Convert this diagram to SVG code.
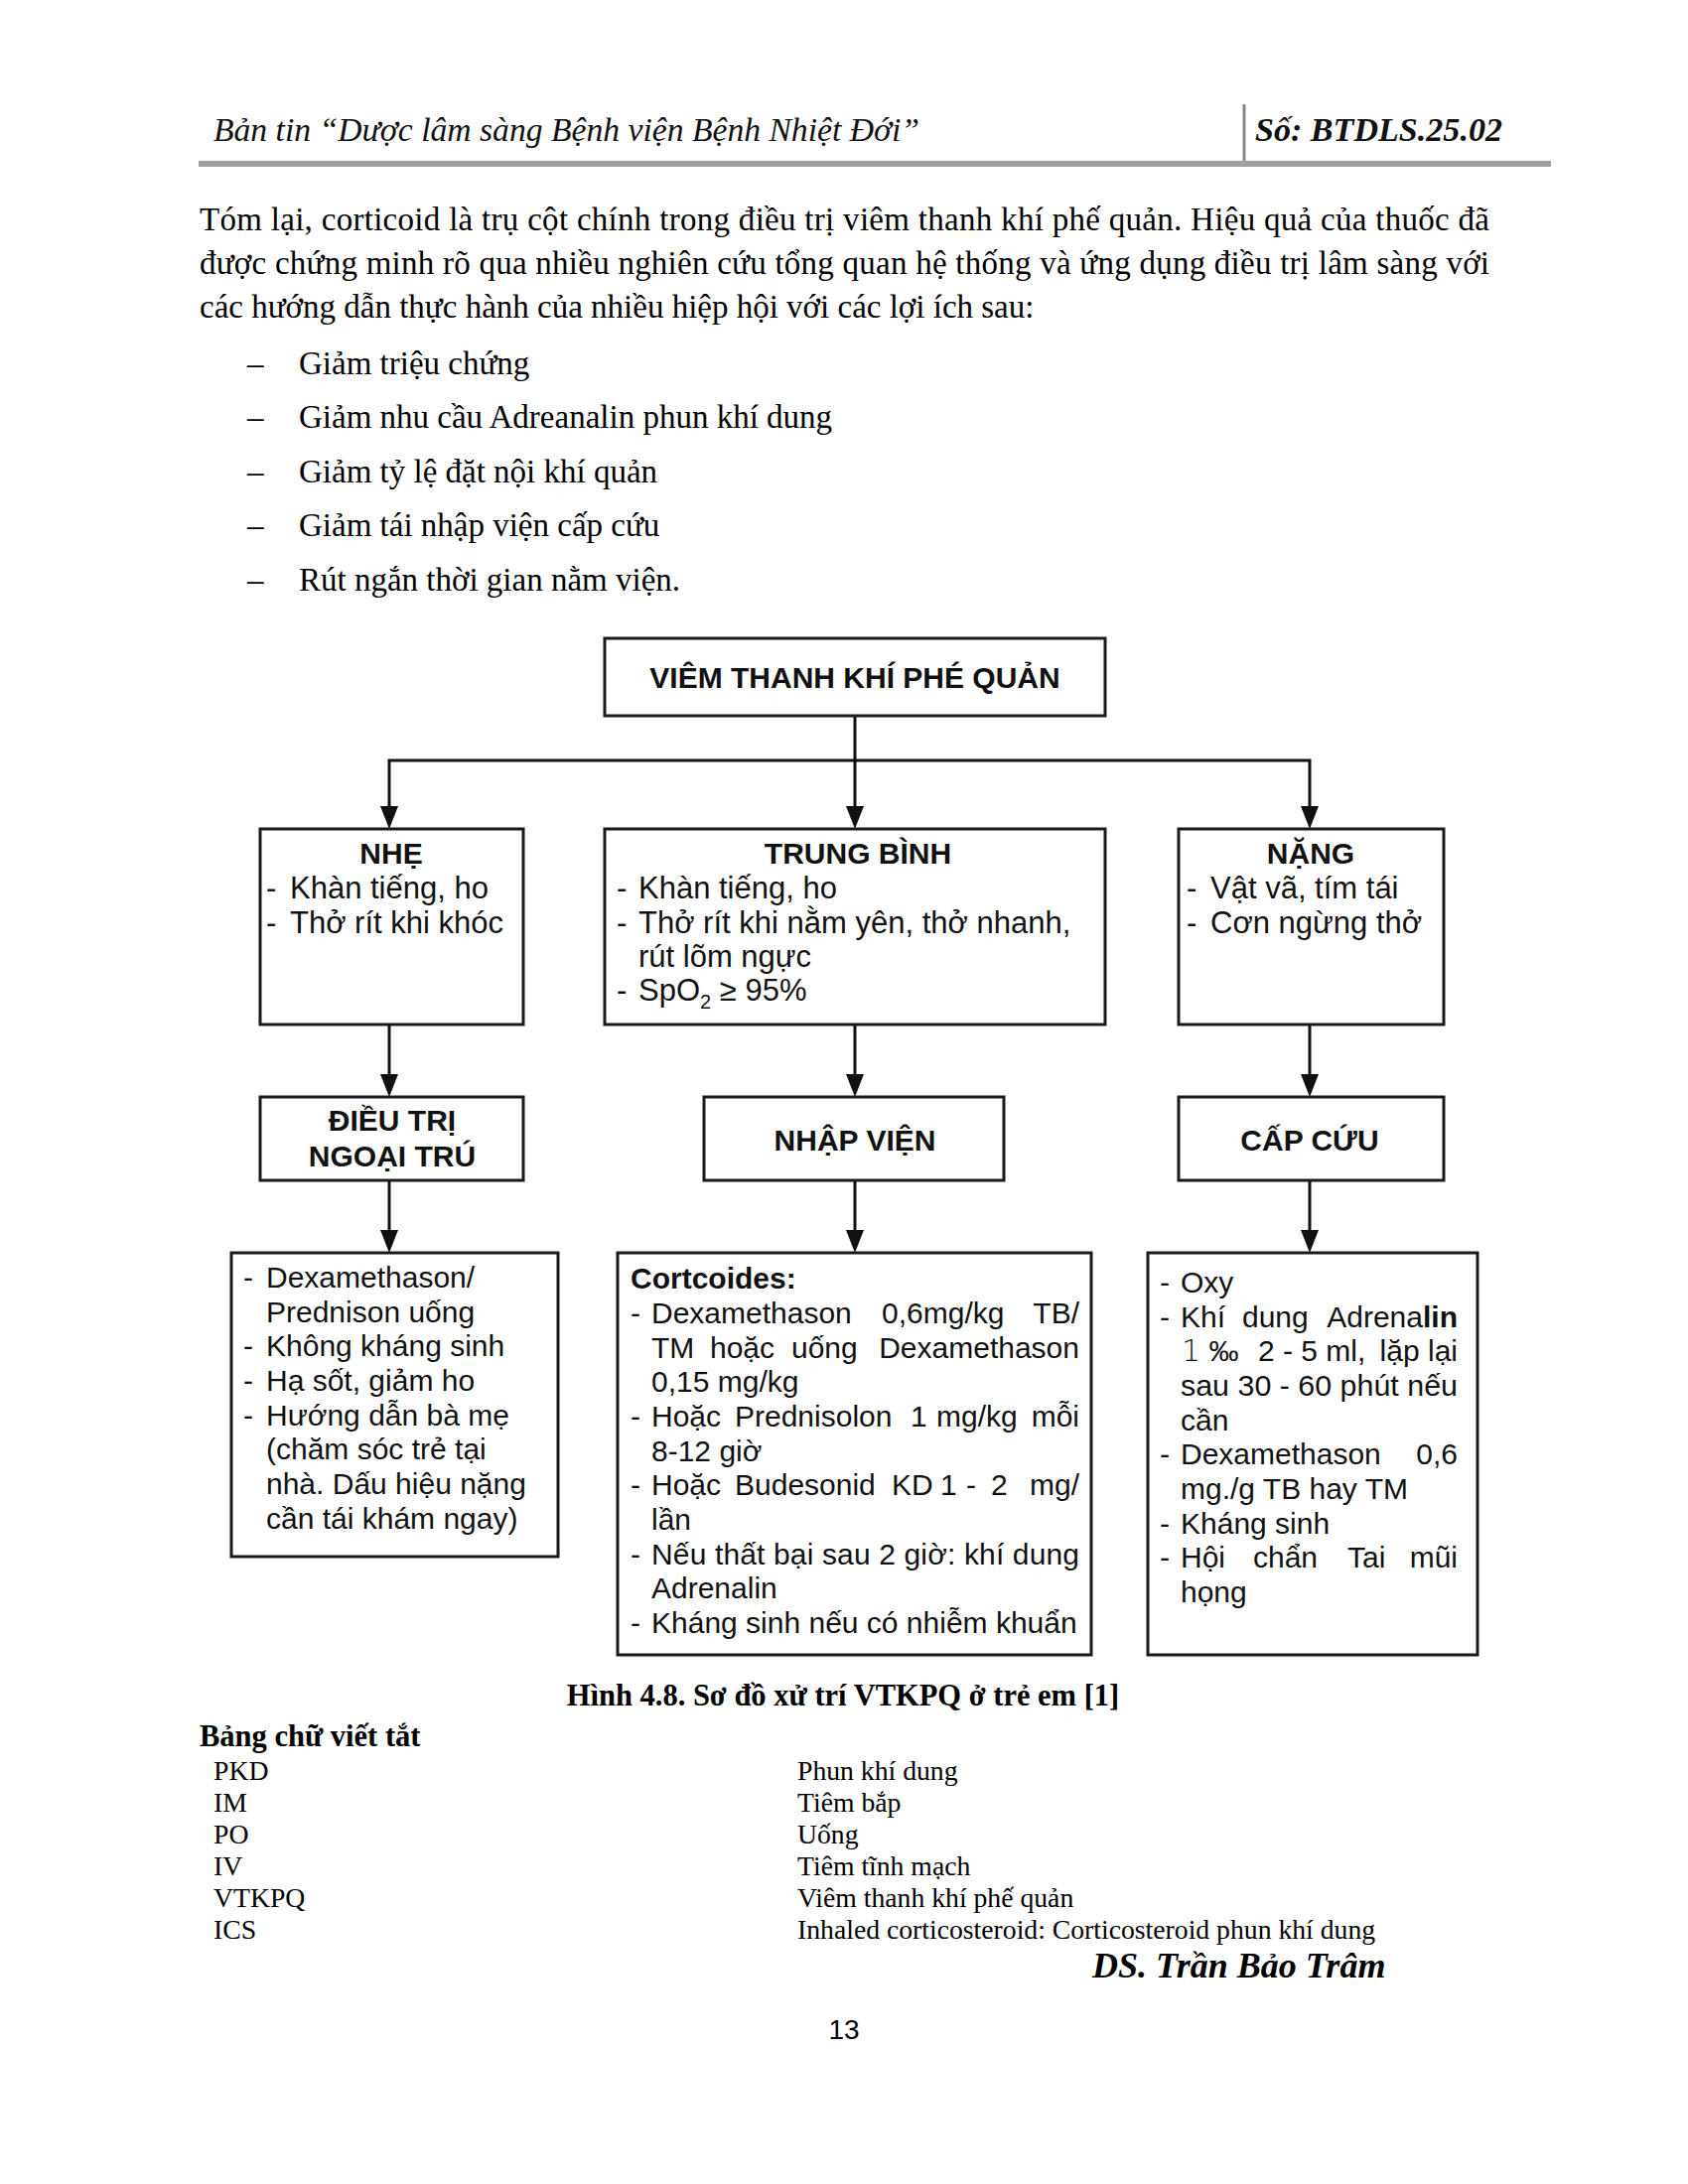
<svg xmlns="http://www.w3.org/2000/svg" width="1700" height="2200" viewBox="0 0 1700 2200">
<defs>
<style>
.hd{font-family:"Liberation Serif",serif;font-style:italic;font-size:34px;fill:#111}
.hdb{font-family:"Liberation Serif",serif;font-style:italic;font-weight:bold;font-size:34px;fill:#111}
.b{font-family:"Liberation Serif",serif;font-size:33px;fill:#000}
.cap{font-family:"Liberation Serif",serif;font-weight:bold;font-size:30.5px;fill:#000}
.ab{font-family:"Liberation Serif",serif;font-size:27.7px;fill:#000}
.sig{font-family:"Liberation Serif",serif;font-style:italic;font-weight:bold;font-size:36px;fill:#000}
.pg{font-family:"Liberation Sans",sans-serif;font-size:28px;fill:#000}
.d{font-family:"Liberation Sans",sans-serif;font-size:30px;fill:#111}
.d2{font-family:"Liberation Sans",sans-serif;font-size:31px;fill:#111}
.t{font-family:"Liberation Sans",sans-serif;font-size:30px;font-weight:bold;fill:#111;text-anchor:middle}
.bx{fill:#fff;stroke:#1a1a1a;stroke-width:3}
.c{fill:none;stroke:#111;stroke-width:3}
</style>
<marker id="ah" viewBox="0 0 23 18" refX="13" refY="9" markerWidth="23" markerHeight="18" markerUnits="userSpaceOnUse" orient="auto-start-reverse">
<path d="M0,0 L23,9 L0,18 z" fill="#111"/>
</marker>
</defs>
<rect width="1700" height="2200" fill="#fff"/>

<!-- header -->
<text class="hd" x="215" y="142" textLength="711" lengthAdjust="spacingAndGlyphs">Bản tin “Dược lâm sàng Bệnh viện Bệnh Nhiệt Đới”</text>
<line x1="1253" y1="105" x2="1253" y2="166" stroke="#888" stroke-width="3"/>
<text class="hdb" x="1264" y="142" textLength="249" lengthAdjust="spacingAndGlyphs">Số: BTDLS.25.02</text>
<rect x="200" y="162" width="1362" height="6" fill="#a0a0a0"/>

<!-- body -->
<text class="b" x="201" y="232" textLength="1299" lengthAdjust="spacing">Tóm lại, corticoid là trụ cột chính trong điều trị viêm thanh khí phế quản. Hiệu quả của thuốc đã</text>
<text class="b" x="201" y="276" textLength="1299" lengthAdjust="spacing">được chứng minh rõ qua nhiều nghiên cứu tổng quan hệ thống và ứng dụng điều trị lâm sàng với</text>
<text class="b" x="201" y="320">các hướng dẫn thực hành của nhiều hiệp hội với các lợi ích sau:</text>
<g class="b">
<text x="249" y="377">–</text><text x="301" y="377">Giảm triệu chứng</text>
<text x="249" y="431">–</text><text x="301" y="431">Giảm nhu cầu Adreanalin phun khí dung</text>
<text x="249" y="486">–</text><text x="301" y="486">Giảm tỷ lệ đặt nội khí quản</text>
<text x="249" y="540">–</text><text x="301" y="540">Giảm tái nhập viện cấp cứu</text>
<text x="249" y="595">–</text><text x="301" y="595">Rút ngắn thời gian nằm viện.</text>
</g>

<!-- connectors -->
<g id="connectors">
<path class="c" d="M861,721 V825" marker-end="url(#ah)"/>
<path class="c" d="M392,825 V766 H1319 V825" marker-start="url(#ah)" marker-end="url(#ah)"/>
<path class="c" d="M392,1032 V1095" marker-end="url(#ah)"/>
<path class="c" d="M861,1032 V1095" marker-end="url(#ah)"/>
<path class="c" d="M1319,1032 V1095" marker-end="url(#ah)"/>
<path class="c" d="M392,1189 V1252" marker-end="url(#ah)"/>
<path class="c" d="M861,1189 V1252" marker-end="url(#ah)"/>
<path class="c" d="M1319,1189 V1252" marker-end="url(#ah)"/>
</g>

<!-- nodes -->
<g id="root">
<rect class="bx" x="609" y="643" width="504" height="78"/>
<text class="t" x="861" y="693">VIÊM THANH KHÍ PHÉ QUẢN</text>
</g>

<g id="nhe">
<rect class="bx" x="262" y="835" width="265" height="197"/>
<text class="t" x="394" y="870">NHẸ</text>
<text class="d2" x="268" y="905">-</text><text class="d2" x="292" y="905">Khàn tiếng, ho</text>
<text class="d2" x="268" y="940">-</text><text class="d2" x="292" y="940">Thở rít khi khóc</text>
</g>

<g id="trungbinh">
<rect class="bx" x="609" y="835" width="504" height="197"/>
<text class="t" x="864" y="870">TRUNG BÌNH</text>
<text class="d2" x="621" y="905">-</text><text class="d2" x="643" y="905">Khàn tiếng, ho</text>
<text class="d2" x="621" y="940">-</text><text class="d2" x="643" y="940">Thở rít khi nằm yên, thở nhanh,</text>
<text class="d2" x="643" y="974">rút lõm ngực</text>
<text class="d2" x="621" y="1008">-</text><text class="d2" x="643" y="1008">SpO<tspan font-size="20" dy="8">2</tspan><tspan dy="-8"> ≥ 95%</tspan></text>
</g>

<g id="nang">
<rect class="bx" x="1187" y="835" width="267" height="197"/>
<text class="t" x="1320" y="870">NẶNG</text>
<text class="d2" x="1195" y="905">-</text><text class="d2" x="1219" y="905">Vật vã, tím tái</text>
<text class="d2" x="1195" y="940">-</text><text class="d2" x="1219" y="940">Cơn ngừng thở</text>
</g>

<g id="ngoaitru">
<rect class="bx" x="262" y="1105" width="265" height="84"/>
<text class="t" x="395" y="1139">ĐIỀU TRỊ</text>
<text class="t" x="395" y="1175">NGOẠI TRÚ</text>
</g>

<g id="nhapvien">
<rect class="bx" x="709" y="1105" width="302" height="84"/>
<text class="t" x="861" y="1159">NHẬP VIỆN</text>
</g>

<g id="capcuu">
<rect class="bx" x="1187" y="1105" width="267" height="84"/>
<text class="t" x="1319" y="1159">CẤP CỨU</text>
</g>

<g id="tx-ngoaitru" class="d">
<rect class="bx" x="233" y="1262" width="329" height="306"/>
<text x="245" y="1297">-</text><text x="268" y="1297">Dexamethason/</text>
<text x="268" y="1332">Prednison uống</text>
<text x="245" y="1366">-</text><text x="268" y="1366">Không kháng sinh</text>
<text x="245" y="1401">-</text><text x="268" y="1401">Hạ sốt, giảm ho</text>
<text x="245" y="1436">-</text><text x="268" y="1436">Hướng dẫn bà mẹ</text>
<text x="268" y="1470">(chăm sóc trẻ tại</text>
<text x="268" y="1505">nhà. Dấu hiệu nặng</text>
<text x="268" y="1540">cần tái khám ngay)</text>
</g>

<g id="tx-nhapvien" class="d">
<rect class="bx" x="622" y="1262" width="477" height="405"/>
<text x="635" y="1298" font-weight="bold">Cortcoides:</text>
<text x="635" y="1333">-</text><text x="656" y="1333">Dexamethason</text><text x="888" y="1333">0,6mg/kg</text><text x="1087" y="1333" text-anchor="end">TB/</text>
<text x="656" y="1368">TM</text><text x="715" y="1368">hoặc</text><text x="797" y="1368">uống</text><text x="1087" y="1368" text-anchor="end">Dexamethason</text>
<text x="656" y="1402">0,15 mg/kg</text>
<text x="635" y="1437">-</text><text x="656" y="1437">Hoặc</text><text x="740" y="1437">Prednisolon</text><text x="917" y="1437">1</text><text x="943" y="1437">mg/kg</text><text x="1087" y="1437" text-anchor="end">mỗi</text>
<text x="656" y="1472">8-12 giờ</text>
<text x="635" y="1506">-</text><text x="656" y="1506">Hoặc</text><text x="740" y="1506">Budesonid</text><text x="898" y="1506">KD</text><text x="947" y="1506">1</text><text x="973" y="1506">-</text><text x="998" y="1506">2</text><text x="1087" y="1506" text-anchor="end">mg/</text>
<text x="656" y="1541">lần</text>
<text x="635" y="1576">-</text><text x="656" y="1576" textLength="431" lengthAdjust="spacing">Nếu thất bại sau 2 giờ: khí dung</text>
<text x="656" y="1610">Adrenalin</text>
<text x="635" y="1645">-</text><text x="656" y="1645">Kháng sinh nếu có nhiễm khuẩn</text>
</g>

<g id="tx-capcuu" class="d">
<rect class="bx" x="1156" y="1262" width="332" height="405"/>
<text x="1168" y="1302">-</text><text x="1189" y="1302">Oxy</text>
<text x="1168" y="1337">-</text><text x="1189" y="1337">Khí</text><text x="1251" y="1337">dung</text><text x="1468" y="1337" text-anchor="end">Adrena<tspan font-weight="bold">lin</tspan></text>
<text x="1190" y="1371"><tspan font-family="'DejaVu Sans',sans-serif" font-weight="200">1</tspan> ‰</text><text x="1267" y="1371">2 - 5 ml,</text><text x="1468" y="1371" text-anchor="end">lặp lại</text>
<text x="1189" y="1406" textLength="279" lengthAdjust="spacingAndGlyphs">sau 30 - 60 phút nếu</text>
<text x="1189" y="1441">cần</text>
<text x="1168" y="1475">-</text><text x="1189" y="1475">Dexamethason</text><text x="1468" y="1475" text-anchor="end">0,6</text>
<text x="1189" y="1510">mg./g TB hay TM</text>
<text x="1168" y="1545">-</text><text x="1189" y="1545">Kháng sinh</text>
<text x="1168" y="1579">-</text><text x="1189" y="1579">Hội</text><text x="1262" y="1579">chẩn</text><text x="1357" y="1579">Tai</text><text x="1468" y="1579" text-anchor="end">mũi</text>
<text x="1189" y="1614">họng</text>
</g>

<!-- caption and abbreviations -->
<text class="cap" x="849" y="1718" text-anchor="middle">Hình 4.8. Sơ đồ xử trí VTKPQ ở trẻ em [1]</text>
<text class="cap" x="201" y="1759">Bảng chữ viết tắt</text>
<g class="ab">
<text x="215" y="1793">PKD</text><text x="803" y="1793">Phun khí dung</text>
<text x="215" y="1825">IM</text><text x="803" y="1825">Tiêm bắp</text>
<text x="215" y="1857">PO</text><text x="803" y="1857">Uống</text>
<text x="215" y="1889">IV</text><text x="803" y="1889">Tiêm tĩnh mạch</text>
<text x="215" y="1921">VTKPQ</text><text x="803" y="1921">Viêm thanh khí phế quản</text>
<text x="215" y="1953">ICS</text><text x="803" y="1953">Inhaled corticosteroid: Corticosteroid phun khí dung</text>
</g>
<text class="sig" x="1100" y="1992">DS. Trần Bảo Trâm</text>
<text class="pg" x="850" y="2054" text-anchor="middle">13</text>
</svg>
